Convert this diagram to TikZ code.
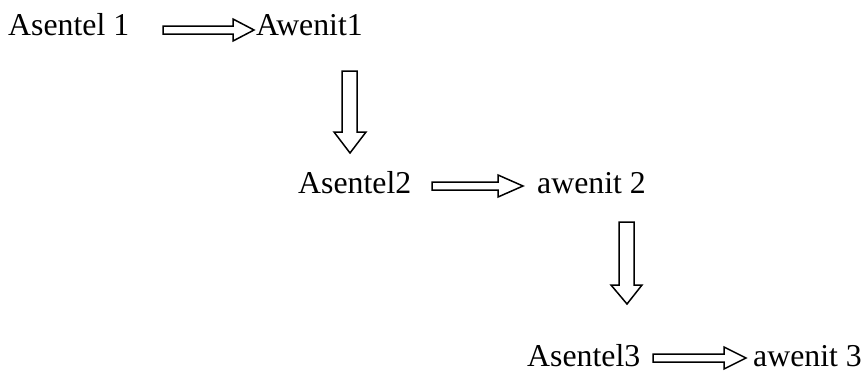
\documentclass[tikz,border=0pt]{standalone}
\usepackage{fontspec}
\setmainfont{Liberation Serif}
\begin{document}
\begin{tikzpicture}[x=1pt,y=-1pt,
  lbl/.style={anchor=base west,inner sep=0pt,text depth=0pt,font=\fontsize{31.8}{38}\selectfont},
  blockarrow/.style={draw=black,line width=1.5pt,line join=miter,fill=white}]
\useasboundingbox (0,0) rectangle (865,372);
\node[lbl] (s1) at (8,35) {Asentel 1};
\node[lbl] (w1) at (256,35) {Awenit1};
\node[lbl] (s2) at (298,193) {Asentel2};
\node[lbl] (w2) at (537,193) {awenit 2};
\node[lbl] (s3) at (527,366) {Asentel3};
\node[lbl] (w3) at (753,366) {awenit 3};
% horizontal arrow 1
\draw[blockarrow] (163,26) -- (233,26) -- (233,19) -- (254,30) -- (233,41) -- (233,34) -- (163,34) -- cycle;
% vertical arrow 1
\draw[blockarrow] (342,71) -- (357,71) -- (357,132) -- (366,132) -- (350,153) -- (334,132) -- (342,132) -- cycle;
% horizontal arrow 2
\draw[blockarrow] (432,182) -- (498,182) -- (498,175) -- (523,186) -- (498,197) -- (498,190) -- (432,190) -- cycle;
% vertical arrow 2
\draw[blockarrow] (619,222) -- (634,222) -- (634,285) -- (642,285) -- (627,304) -- (611,285) -- (619,285) -- cycle;
% horizontal arrow 3
\draw[blockarrow] (653,354) -- (724,354) -- (724,347) -- (746,358) -- (724,369) -- (724,362) -- (653,362) -- cycle;
\end{tikzpicture}
\end{document}
